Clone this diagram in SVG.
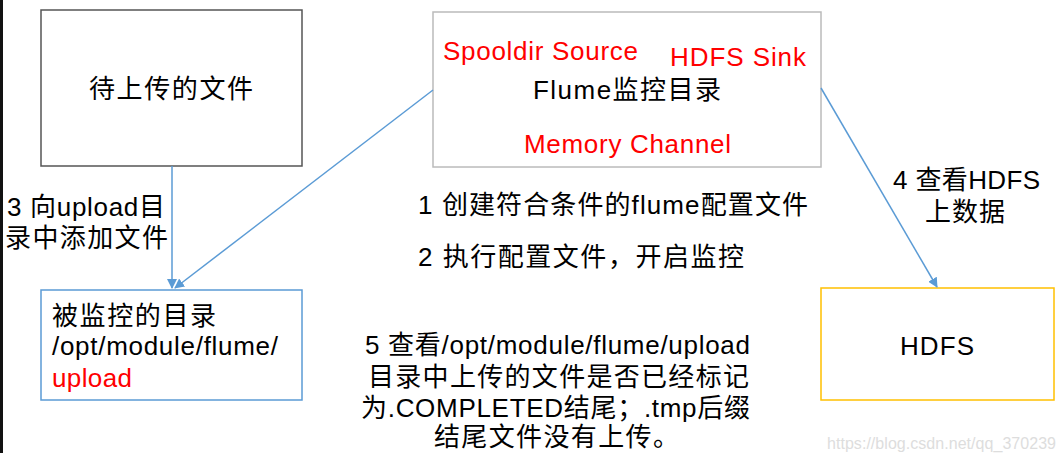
<svg xmlns="http://www.w3.org/2000/svg" width="1056" height="453" viewBox="0 0 1056 453">
<style>
text{font-family:"Liberation Sans","Noto Sans CJK SC",sans-serif;font-size:26px;fill:#000}
.r{fill:#f00}
.c{stroke:#5b9bd5;stroke-width:1.5;fill:none}
</style>
<defs><marker id="a" markerWidth="10" markerHeight="10" refX="9" refY="5" orient="auto" markerUnits="userSpaceOnUse"><path d="M0,0L10,5L0,10z" fill="#5b9bd5"/></marker></defs>
<rect width="1056" height="453" fill="#fff"/>
<rect x="0" y="0" width="3" height="453" fill="#111"/>
<g id="n1"><rect x="41" y="10" width="261" height="156" fill="#fff" stroke="#555" stroke-width="1.5"/><text x="89" y="98" textLength="164">待上传的文件</text></g>
<g id="n2"><rect x="41" y="290" width="261" height="110" fill="#fff" stroke="#5b9bd5" stroke-width="1.5"/><text x="52" y="325" textLength="164">被监控的目录</text><text x="52" y="355" textLength="226">/opt/module/flume/</text><text x="52" y="387" class="r" textLength="80">upload</text></g>
<g id="n3"><rect x="433" y="12" width="388" height="155" fill="#fff" stroke="#bbb" stroke-width="1.5"/><text x="443" y="60" class="r" textLength="195">Spooldir Source</text><text x="670" y="66" class="r" textLength="136">HDFS Sink</text><text x="533" y="99" textLength="188">Flume监控目录</text><text x="524" y="153" class="r" textLength="207">Memory Channel</text></g>
<g id="n4"><rect x="821" y="288" width="233" height="112" fill="#fff" stroke="#ffc000" stroke-width="1.5"/><text x="900" y="355" textLength="74">HDFS</text></g>
<g id="connectors">
<path class="c" d="M172,166V288" marker-end="url(#a)"/>
<path class="c" d="M433,90L175,288" marker-end="url(#a)"/>
<path class="c" d="M821,88L937,287" marker-end="url(#a)"/>
</g>
<text x="7" y="216" textLength="158">3 向upload目</text><text x="5" y="247" textLength="163">录中添加文件</text>
<text x="418" y="214" textLength="390">1 创建符合条件的flume配置文件</text>
<text x="418" y="266" textLength="326">2 执行配置文件，开启监控</text>
<text x="893" y="189" textLength="147">4 查看HDFS</text><text x="925" y="221" textLength="80">上数据</text>
<text x="365" y="354" textLength="385">5 查看/opt/module/flume/upload</text>
<text x="368" y="386" textLength="381">目录中上传的文件是否已经标记</text>
<text x="361" y="417" textLength="389">为.COMPLETED结尾；.tmp后缀</text>
<text x="434" y="446" textLength="245">结尾文件没有上传。</text>
<text x="827" y="449" textLength="229" style="font-size:16px;fill:#ddd">https://blog.csdn.net/qq_370239</text>
</svg>
